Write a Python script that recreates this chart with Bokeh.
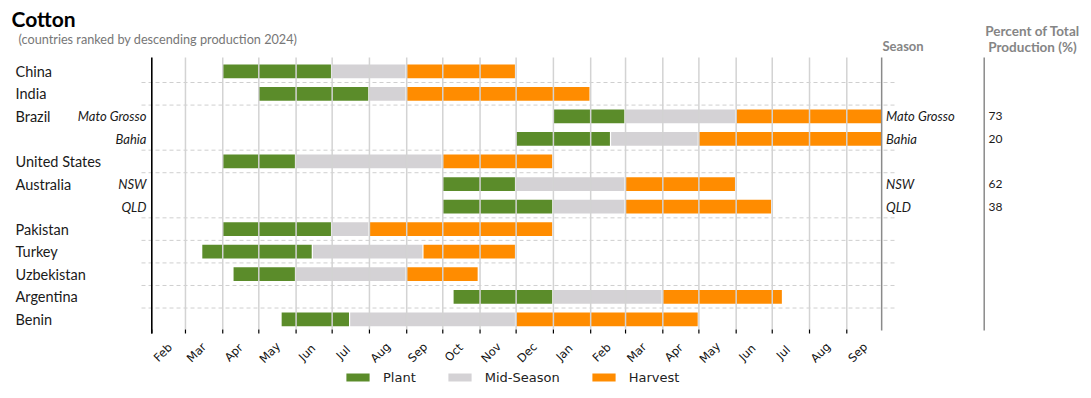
import math
import pandas as pd
from bokeh.plotting import figure
from bokeh.models import ColumnDataSource, Range1d, Label, Legend, LegendItem
from bokeh.embed import file_html
from bokeh.resources import INLINE

# ---------------- data ----------------
TITLE = "Cotton"
SUBTITLE = "(countries ranked by descending production 2024)"

rows = ["China", "India", "Mato Grosso", "Bahia", "United States", "NSW", "QLD",
        "Pakistan", "Turkey", "Uzbekistan", "Argentina", "Benin"]
country_labels = ["China", "India", "Brazil", "", "United States", "Australia", "",
                  "Pakistan", "Turkey", "Uzbekistan", "Argentina", "Benin"]
region_labels = ["", "", "Mato Grosso", "Bahia", "", "NSW", "QLD",
                 "", "", "", "", ""]
percent_labels = ["", "", "73", "20", "", "62", "38", "", "", "", "", ""]

plant_start = ["2023-04-01", "2023-05-01", "2024-01-01", "2023-12-01", "2023-04-01", "2023-10-01",
               "2023-10-01", "2023-04-01", "2023-03-15", "2023-04-10", "2023-10-10", "2023-05-20"]
plant_end = ["2023-06-30", "2023-07-31", "2024-02-29", "2024-02-17", "2023-05-31", "2023-11-30",
             "2023-12-31", "2023-06-30", "2023-06-14", "2023-05-31", "2023-12-31", "2023-07-15"]
mid_start = ["2023-07-01", "2023-08-01", "2024-03-01", "2024-02-18", "2023-06-01", "2023-12-01",
             "2024-01-01", "2023-07-01", "2023-06-15", "2023-06-01", "2024-01-01", "2023-07-16"]
mid_end = ["2023-08-31", "2023-08-31", "2024-05-31", "2024-04-30", "2023-09-30", "2024-02-29",
           "2024-02-29", "2023-07-31", "2023-09-14", "2023-08-31", "2024-03-31", "2023-11-30"]
harvest_start = ["2023-09-01", "2023-09-01", "2024-06-01", "2024-05-01", "2023-10-01", "2024-03-01",
                 "2024-03-01", "2023-08-01", "2023-09-15", "2023-09-01", "2024-04-01", "2023-12-01"]
harvest_end = ["2023-11-30", "2024-01-31", "2024-09-30", "2024-09-30", "2023-12-31", "2024-05-31",
               "2024-06-30", "2023-12-31", "2023-11-30", "2023-10-30", "2024-07-09", "2024-04-30"]

phases = ["Plant", "Mid-Season", "Harvest"]
phase_colors = ["#5b8c2a", "#d4d2d5", "#ff8c00"]

month_ticks = ["2023-02-01", "2023-03-01", "2023-04-01", "2023-05-01", "2023-06-01", "2023-07-01",
               "2023-08-01", "2023-09-01", "2023-10-01", "2023-11-01", "2023-12-01", "2024-01-01",
               "2024-02-01", "2024-03-01", "2024-04-01", "2024-05-01", "2024-06-01", "2024-07-01",
               "2024-08-01", "2024-09-01"]
month_labels = ["Feb", "Mar", "Apr", "May", "Jun", "Jul", "Aug", "Sep", "Oct", "Nov", "Dec", "Jan",
                "Feb", "Mar", "Apr", "May", "Jun", "Jul", "Aug", "Sep"]
season_end = "2024-09-30"

# ---------------- layout helpers (pixel positions of the page) ----------------
ORIGIN = pd.Timestamp(month_ticks[0])


def day(s):
    return (pd.Timestamp(s) - ORIGIN).days


W, H = 1085, 392
AXIS_PX = 151.3          # x pixel of the first month tick
PX_PER_DAY = 1.2024
ROW_PX = 22.55
FRAME_T, FRAME_B = 57, 329
Y_TOP = 11.61            # data y at the top of the chart area


def xpx(px):
    return (px - AXIS_PX) / PX_PER_DAY


def ypx(py):
    return Y_TOP - (py - FRAME_T) / ROW_PX


x_start, x_end = xpx(0), xpx(W)
y_top, y_bottom = ypx(0), ypx(H)

n = len(rows)
row_y = [n - 1 - i for i in range(n)]
tick_days = [day(t) for t in month_ticks]

p = figure(width=W, height=H, x_range=Range1d(x_start, x_end), y_range=Range1d(y_bottom, y_top),
           output_backend="svg", toolbar_location=None, min_border=0)
p.outline_line_color = None
p.axis.visible = False
p.grid.visible = False

# dashed separators between countries
sep_y = [row_y[i] + 0.5 for i in range(1, n) if country_labels[i] != ""]
p.segment(x0=[xpx(141)] * len(sep_y), x1=[xpx(894.5)] * len(sep_y), y0=sep_y, y1=sep_y,
          line_color="#cfcfcf", line_width=1, line_dash="4 3")

# bars
starts = [plant_start, mid_start, harvest_start]
ends = [plant_end, mid_end, harvest_end]
bar_renderers = []
for ph, col, st, en in zip(phases, phase_colors, starts, ends):
    src = ColumnDataSource(dict(y=row_y, left=[day(s) for s in st], right=[day(e) for e in en]))
    r = p.hbar(y="y", left="left", right="right", height=0.61, source=src,
               fill_color=col, line_color=None)
    bar_renderers.append(r)

# month grid lines (drawn over the bars) and tick marks
gy0, gy1, ty1 = ypx(FRAME_T), ypx(FRAME_B), ypx(FRAME_B + 4)
p.segment(x0=tick_days[1:], x1=tick_days[1:], y0=[gy0] * (len(tick_days) - 1),
          y1=[gy1] * (len(tick_days) - 1), line_color="#d3d3d3", line_width=1.5)
p.segment(x0=tick_days, x1=tick_days, y0=[gy1] * len(tick_days), y1=[ty1] * len(tick_days),
          line_color="black", line_width=1.2)

# vertical rules: axis line, season boundary, percent column
p.segment(x0=[0], x1=[0], y0=[gy0], y1=[ty1], line_color="black", line_width=1.6)
p.segment(x0=[day(season_end), xpx(983.7)], x1=[day(season_end), xpx(983.7)],
          y0=[gy0, gy0], y1=[ypx(330), ypx(330)], line_color="#8a8a8a", line_width=1.5)

FONT = "Lato"
# row labels
for yv, c, rg, pc in zip(row_y, country_labels, region_labels, percent_labels):
    if c:
        p.add_layout(Label(x=xpx(15), y=yv, text=c, text_font=FONT, text_font_size="14.5px",
                           text_color="#1a1a1a", text_align="left", text_baseline="middle"))
    if rg:
        p.add_layout(Label(x=xpx(146), y=yv, text=rg, text_font=FONT, text_font_size="13px",
                           text_font_style="italic", text_color="#1a1a1a",
                           text_align="right", text_baseline="middle"))
        p.add_layout(Label(x=xpx(885.5), y=yv, text=rg, text_font=FONT, text_font_size="13px",
                           text_font_style="italic", text_color="#1a1a1a",
                           text_align="left", text_baseline="middle"))
    if pc:
        p.add_layout(Label(x=xpx(988), y=yv, text=pc, text_font=FONT, text_font_size="12px",
                           text_color="#1a1a1a", text_align="left", text_baseline="middle"))

# month tick labels (rotated)
for td, ml in zip(tick_days, month_labels):
    p.add_layout(Label(x=td + 11 / PX_PER_DAY, y=ypx(352), text=ml, angle=math.pi / 4,
                       text_font="DejaVu Sans", text_font_size="11.5px", text_color="#111111",
                       text_align="center", text_baseline="middle"))

# titles and headers
p.add_layout(Label(x=xpx(11), y=ypx(18), text=TITLE, text_font=FONT, text_font_size="21px",
                   text_font_style="bold", text_color="#000000", text_align="left",
                   text_baseline="middle"))
p.add_layout(Label(x=xpx(18), y=ypx(38), text=SUBTITLE, text_font=FONT, text_font_size="12.7px",
                   text_color="#777777", text_align="left", text_baseline="middle"))
p.add_layout(Label(x=xpx(882), y=ypx(45), text="Season", text_font=FONT, text_font_size="13px",
                   text_font_style="bold", text_color="#858585", text_align="left",
                   text_baseline="middle"))
p.add_layout(Label(x=xpx(1032), y=ypx(30), text="Percent of Total", text_font=FONT,
                   text_font_size="13.5px", text_font_style="bold", text_color="#858585",
                   text_align="center", text_baseline="middle"))
p.add_layout(Label(x=xpx(1032), y=ypx(46), text="Production (%)", text_font=FONT,
                   text_font_size="13.5px", text_font_style="bold", text_color="#858585",
                   text_align="center", text_baseline="middle"))

# legend (location in screen px from the bottom-left of the plot area)
legend = Legend(items=[LegendItem(label=ph, renderers=[r]) for ph, r in zip(phases, bar_renderers)],
                orientation="horizontal", location=(343, H - 385), glyph_width=29, glyph_height=10,
                label_standoff=11, spacing=29, padding=2, margin=0, label_height=16,
                border_line_color=None, background_fill_alpha=0,
                label_text_font="DejaVu Sans", label_text_font_size="13px",
                label_text_color="#222222")
p.add_layout(legend)

open("out.html", "w").write(file_html(p, INLINE))
